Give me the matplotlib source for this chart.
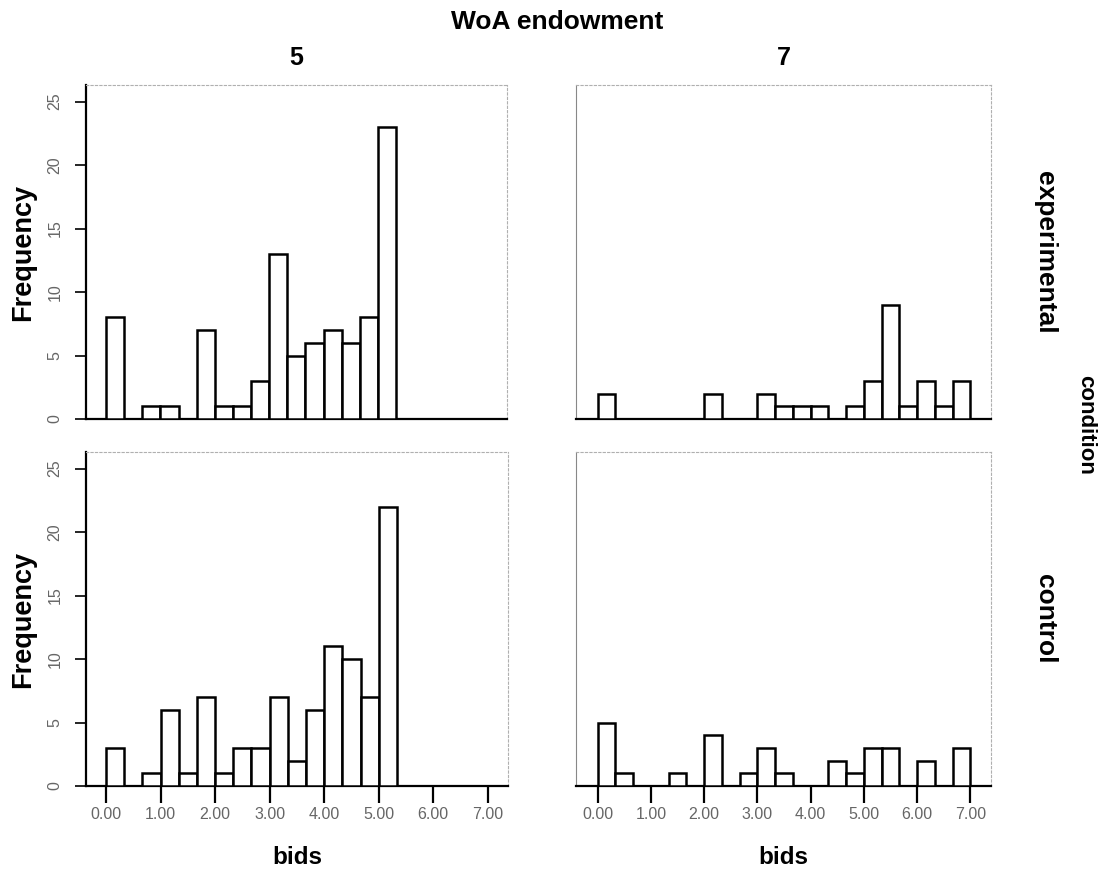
import matplotlib

matplotlib.use("Agg")
import matplotlib.pyplot as plt
import numpy as np

# bins of width 1/3 between 0 and 7 (21 bins)
BIN_LO = 0.0
BIN_HI = 7.0
N_BINS = 21

ENDOWMENTS = ["5", "7"]
CONDITIONS = ["experimental", "control"]

# frequency per bin
exp_5 = [8, 0, 1, 1, 0, 7, 1, 1, 3, 13, 5, 6, 7, 6, 8, 23, 0, 0, 0, 0, 0]
exp_7 = [2, 0, 0, 0, 0, 0, 2, 0, 0, 2, 1, 1, 1, 0, 1, 3, 9, 1, 3, 1, 3]
ctl_5 = [3, 0, 1, 6, 1, 7, 1, 3, 3, 7, 2, 6, 11, 10, 7, 22, 0, 0, 0, 0, 0]
ctl_7 = [5, 1, 0, 0, 1, 0, 4, 0, 1, 3, 1, 0, 0, 2, 1, 3, 3, 0, 2, 0, 3]

COUNTS = [[exp_5, exp_7], [ctl_5, ctl_7]]
Y_TICKS = [0, 5, 10, 15, 20, 25]
X_TICKS = [0, 1, 2, 3, 4, 5, 6, 7]
X_TICKLABELS = ["0.00", "1.00", "2.00", "3.00", "4.00", "5.00", "6.00", "7.00"]

W, H = 1106, 873
# axes boxes in pixels: (left, right, top, bottom)
BOXES = [
    [(86, 507, 85, 419), (576, 991, 85, 419)],
    [(86, 508, 452, 786), (576, 991, 452, 786)],
]
XLIMS = [(-0.367, 7.37), (-0.408, 7.39)]

plt.rcParams["font.family"] = ["Liberation Sans", "DejaVu Sans"]
fig = plt.figure(figsize=(W / 100, H / 100), dpi=100)

edges = np.linspace(BIN_LO, BIN_HI, N_BINS + 1)
width = edges[1] - edges[0]
tick_grey = "#666666"

for r in range(2):
    for c in range(2):
        left, right, top, bottom = BOXES[r][c]
        ax = fig.add_axes([left / W, 1 - bottom / H, (right - left) / W, (bottom - top) / H])
        ax.bar(edges[:-1], COUNTS[r][c], width=width, align="edge",
               facecolor="white", edgecolor="black", linewidth=1.8, zorder=3)
        ax.set_xlim(*XLIMS[c])
        ax.set_ylim(0, 26.3)

        for side in ("top", "right"):
            ax.spines[side].set_linestyle((0, (2, 2)))
            ax.spines[side].set_color("#b0b0b0")
            ax.spines[side].set_linewidth(0.8)
        ax.spines["bottom"].set_color("black")
        ax.spines["bottom"].set_linewidth(1.6)
        if c == 0:
            ax.spines["left"].set_color("black")
            ax.spines["left"].set_linewidth(1.6)
            ax.set_yticks(Y_TICKS)
            ax.set_yticklabels([str(v) for v in Y_TICKS], rotation=90, va="center",
                               color=tick_grey, fontsize=11.5)
            ax.tick_params(axis="y", length=8, width=1.2, pad=9)
        else:
            ax.spines["left"].set_color("#888888")
            ax.spines["left"].set_linewidth(0.8)
            ax.set_yticks([])
        if r == 1:
            ax.set_xticks(X_TICKS)
            ax.set_xticklabels(X_TICKLABELS, color=tick_grey, fontsize=11.5)
            ax.tick_params(axis="x", length=12, width=1.6, pad=3)
        else:
            ax.set_xticks([])

        if c == 0:
            ycen = (top + bottom) / 2
            fig.text(23 / W, 1 - ycen / H, "Frequency", rotation=90, fontsize=19.5,
                     fontweight="bold", ha="center", va="center")
        if c == 1:
            ycen = (top + bottom) / 2
            fig.text(1045 / W, 1 - ycen / H, CONDITIONS[r], rotation=270, fontsize=19,
                     fontweight="bold", ha="center", va="center")
        if r == 0:
            fig.text((left + right) / 2 / W, 1 - 58 / H, ENDOWMENTS[c], fontsize=18,
                     fontweight="bold", ha="center", va="center")
        if r == 1:
            xcen = (left + right) / 2
            fig.text(xcen / W, 1 - 857 / H, "bids", fontsize=17.5,
                     fontweight="bold", ha="center", va="center")

fig.text(557 / W, 1 - 22 / H, "WoA endowment", fontsize=19, fontweight="bold",
         ha="center", va="center")
fig.text(1086 / W, 1 - 425 / H, "condition", rotation=270, fontsize=16,
         fontweight="bold", ha="center", va="center")

fig.savefig("out.png", dpi=100)
plt.close(fig)
